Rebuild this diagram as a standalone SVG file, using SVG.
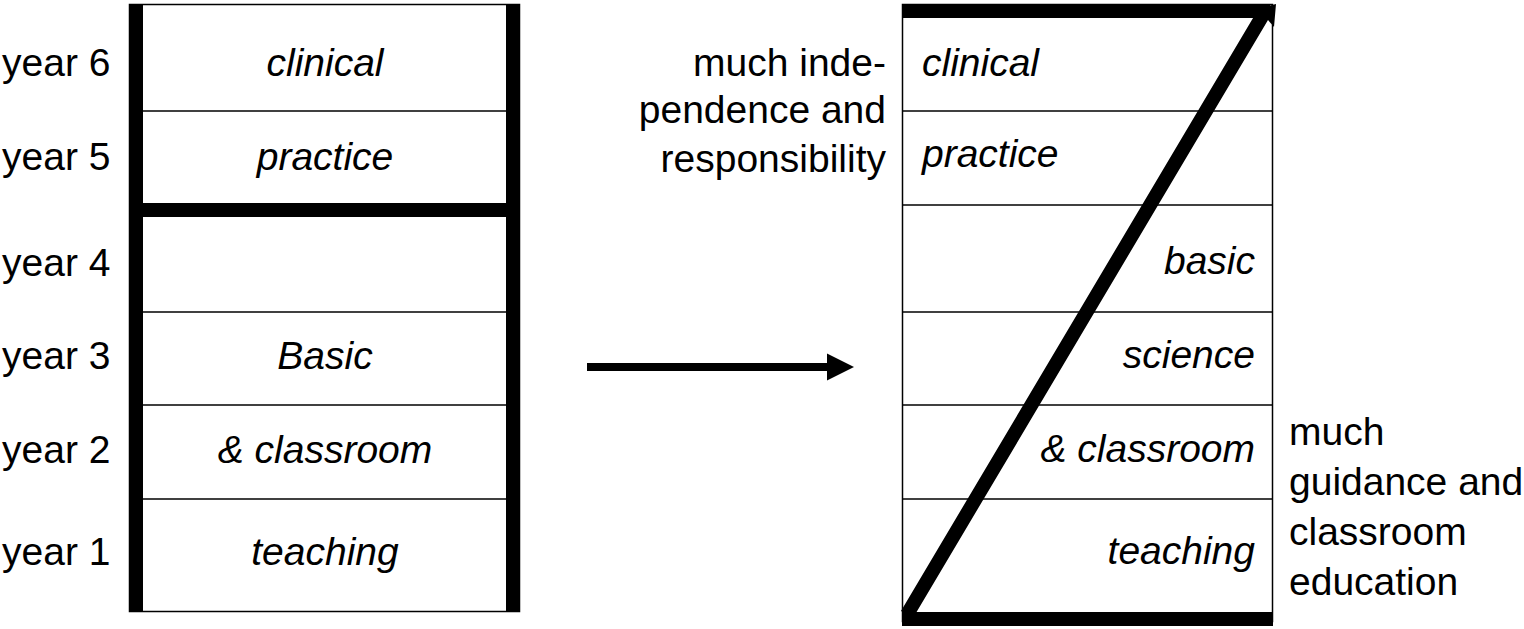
<svg xmlns="http://www.w3.org/2000/svg" width="1524" height="629" viewBox="0 0 1524 629">
<style>
text{font-family:"Liberation Sans",Arial,sans-serif;font-size:39px;fill:#000}
.it{font-style:italic}
.thin{stroke:#000;stroke-width:1.5;fill:none}
.thick{fill:#000}
</style>
<defs>
<marker id="ah" viewBox="0 0 10 10" refX="0" refY="5" markerWidth="3.4" markerHeight="3.4" markerUnits="strokeWidth" orient="auto">
<path d="M0,0 L10,5 L0,10 Z" fill="#000"/>
</marker>
</defs>
<rect width="1524" height="629" fill="#fff"/>
<g id="year-labels">
<text x="2" y="76">year 6</text>
<text x="2" y="170">year 5</text>
<text x="2" y="276">year 4</text>
<text x="2" y="369">year 3</text>
<text x="2" y="463">year 2</text>
<text x="2" y="565">year 1</text>
</g>
<g id="left-box">
<rect class="thin" x="129.5" y="4.5" width="390" height="607"/>
<line class="thin" x1="143" y1="111" x2="506" y2="111"/>
<line class="thin" x1="143" y1="312" x2="506" y2="312"/>
<line class="thin" x1="143" y1="405" x2="506" y2="405"/>
<line class="thin" x1="143" y1="499" x2="506" y2="499"/>
<rect class="thick" x="129" y="4" width="14" height="608"/>
<rect class="thick" x="506" y="4" width="14" height="608"/>
<rect class="thick" x="143" y="203" width="363" height="14"/>
<g class="it" text-anchor="middle">
<text x="325" y="76">clinical</text>
<text x="325" y="170">practice</text>
<text x="325" y="369">Basic</text>
<text x="325" y="463">&amp; classroom</text>
<text x="325" y="565">teaching</text>
</g>
</g>
<g id="connectors">
<line x1="587" y1="367" x2="827" y2="367" stroke="#000" stroke-width="8" marker-end="url(#ah)"/>
</g>
<g id="right-box">
<rect class="thin" x="902.5" y="4.5" width="370" height="617"/>
<line class="thin" x1="902" y1="111" x2="1272" y2="111"/>
<line class="thin" x1="902" y1="205" x2="1272" y2="205"/>
<line class="thin" x1="902" y1="312" x2="1272" y2="312"/>
<line class="thin" x1="902" y1="405" x2="1272" y2="405"/>
<line class="thin" x1="902" y1="499" x2="1272" y2="499"/>
<rect class="thick" x="902" y="4" width="368" height="14"/>
<rect class="thick" x="902" y="612" width="371" height="14"/>
<polygon class="thick" points="901,611 1256,13 1252,10 1276,4 1274,27 1268,20 913,618"/>
<g class="it">
<text x="922" y="76">clinical</text>
<text x="922" y="167">practice</text>
</g>
<g class="it" text-anchor="end">
<text x="1255" y="274">basic</text>
<text x="1255" y="368">science</text>
<text x="1255" y="462">&amp; classroom</text>
<text x="1255" y="564">teaching</text>
</g>
</g>
<g id="label-independence" text-anchor="end">
<text x="886" y="76">much inde-</text>
<text x="886" y="123">pendence and</text>
<text x="886" y="172">responsibility</text>
</g>
<g id="label-guidance">
<text x="1289" y="445">much</text>
<text x="1289" y="495">guidance and</text>
<text x="1289" y="545">classroom</text>
<text x="1289" y="595">education</text>
</g>
</svg>
